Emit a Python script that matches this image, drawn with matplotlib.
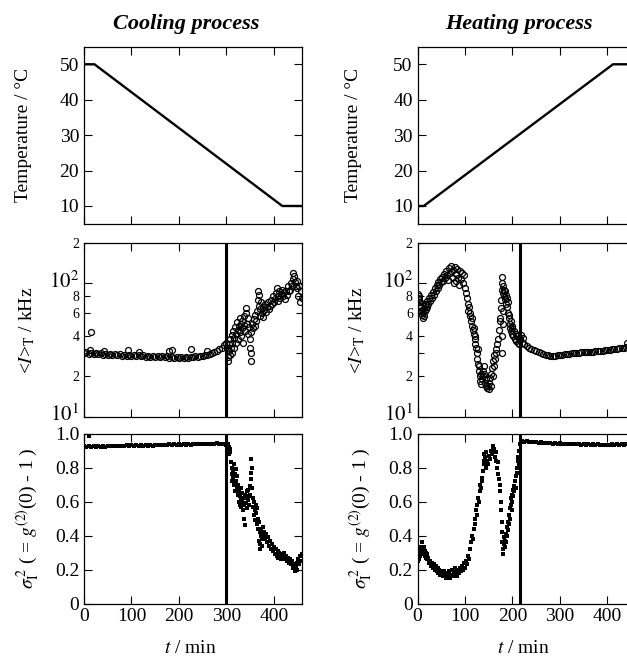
import matplotlib
matplotlib.use('Agg')
import matplotlib.pyplot as plt
from matplotlib.ticker import FixedLocator, FuncFormatter, NullFormatter
from matplotlib.transforms import ScaledTranslation

plt.rcParams['font.family'] = ['Liberation Serif', 'DejaVu Serif']
plt.rcParams['mathtext.fontset'] = 'stix'
plt.rcParams['font.size'] = 14

# ---- temperature programme ----
cool_temp_t = [0, 22, 418, 460]
cool_temp = [50, 50, 10, 10]
heat_temp_t = [0, 13, 412, 460]
heat_temp = [10, 10, 50, 50]

# ---- mean intensity, cooling ----
cool_band_t = list(range(0, 301, 5))
cool_band_I = [30.0, 30.4, 29.6, 30.2, 29.5, 29.9, 29.3, 29.8, 29.2, 29.6, 29.0, 29.5,
               28.9, 29.4, 28.8, 29.3, 28.7, 29.2, 28.6, 29.1, 28.5, 29.0, 28.4, 28.9,
               28.3, 28.8, 28.2, 28.7, 28.1, 28.6, 28.0, 28.5, 27.9, 28.4, 27.8, 28.3,
               27.7, 28.2, 27.6, 28.1, 27.6, 28.0, 27.6, 28.1, 27.7, 28.2, 27.8, 28.3,
               28.0, 28.6, 28.4, 29.0, 29.0, 29.6, 29.8, 30.6, 31.0, 32.0, 33.0, 34.5, 36.0]
cool_extra_t = [12, 14, 43, 92, 115, 180, 185, 225, 260]
cool_extra_I = [31.5, 43, 31, 31.5, 30.5, 31, 31.5, 32, 31]
cool_scat_t = [302, 303, 304, 305, 306, 307, 308, 310, 311, 312, 313, 315, 316, 317, 318,
               320, 321, 322, 324, 325, 326, 328, 329, 330, 331, 333, 334, 335, 337, 338,
               340, 341, 342, 344, 345, 346, 348, 349, 350, 351, 352, 353, 355, 356, 358,
               360, 361, 363, 365, 366, 367, 368, 369, 370, 372, 373, 375, 377, 378, 380,
               382, 384, 386, 388, 390, 392, 394, 396, 398, 400, 402, 404, 406, 408, 410,
               412, 414, 416, 418, 420, 422, 424, 426, 428, 430, 432, 434, 436, 438, 440,
               441, 442, 444, 446, 448, 450, 452, 454, 456, 458, 460]
cool_scat_I = [33, 28, 26, 31, 35, 29, 38, 33, 30, 41, 36, 44, 33, 39, 47,
               42, 36, 51, 45, 38, 48, 43, 55, 50, 40, 46, 52, 36, 49, 57,
               44, 65, 60, 50, 42, 55, 47, 38, 33, 30, 26, 43, 50, 46, 54,
               48, 58, 52, 62, 75, 88, 82, 68, 57, 64, 72, 60, 67, 56, 63,
               70, 61, 66, 73, 64, 68, 75, 70, 80, 72, 77, 85, 92, 80, 74,
               88, 78, 84, 90, 80, 86, 76, 88, 82, 96, 87, 90, 100, 95, 108,
               120, 113, 102, 95, 92, 105, 80, 96, 73, 88, 78]

# ---- mean intensity, heating ----
heat_scat_t = [0, 1, 2, 3, 4, 5, 6, 7, 8, 9, 10, 11, 12, 13, 14, 15, 16, 17, 18, 19,
               20, 22, 24, 26, 28, 30, 32, 34, 36, 38, 40, 42, 44, 46, 48, 50, 52, 54,
               56, 58, 60, 62, 64, 66, 68, 70, 72, 74, 76, 78, 80, 82, 84, 86, 88, 90,
               92, 94, 96, 98, 100, 102, 104, 106, 107, 108, 110, 111, 112, 114, 115,
               116, 118, 119, 120, 121, 122, 124, 125, 126, 127, 128, 129, 130, 131,
               132, 133, 134, 136, 137, 138, 140, 141, 142, 144, 145, 146, 148, 150,
               151, 152, 154, 155, 156, 158, 160, 161, 162, 164, 165, 166, 168, 170,
               172, 173, 174, 175, 176, 177, 178, 179, 180, 181, 182, 183, 184, 185,
               186, 187, 188, 189, 190, 191, 192, 193, 194, 195, 196, 197, 198, 199,
               200, 202, 204, 205, 207, 208, 210, 212, 213, 214, 215, 178, 179, 180, 181]
heat_scat_I = [84, 78, 80, 73, 76, 68, 72, 62, 66, 58, 63, 55, 60, 65, 57, 62, 68, 64, 70, 66,
               74, 70, 78, 74, 82, 78, 86, 82, 92, 88, 97, 92, 103, 98, 108, 102, 112, 105,
               118, 110, 125, 115, 106, 130, 120, 135, 112, 126, 100, 132, 118, 105, 128, 110, 98, 125,
               108, 120, 100, 115, 92, 85, 78, 70, 62, 66, 57, 60, 52, 55, 48,
               45, 42, 46, 38, 35, 40, 33, 30, 27, 32, 25, 22, 24, 20,
               18.5, 21, 17.5, 19, 22, 20, 24, 21, 18, 17, 19, 16.5, 17, 16,
               18, 19.5, 17, 21, 23, 20, 26, 24, 29, 27, 32, 30, 35, 38,
               45, 55, 52, 65, 75, 90, 112, 100, 85, 96, 80, 90, 76, 88,
               70, 82, 66, 78, 60, 72, 58, 55, 50, 46, 52, 44, 48, 42,
               46, 40, 44, 38, 42, 37, 40, 36, 39, 35, 38, 30, 40, 50, 62]
heat_band_t = list(range(215, 461, 5))
heat_band_I = [38, 36, 35, 34, 33, 32.3, 31.5, 31, 30.4, 30, 29.6, 29.2, 28.9, 28.7, 28.6,
               28.6, 28.8, 29, 29.2, 29.4, 29.6, 29.7, 29.9, 30, 30.1, 30.2, 30.3, 30.4,
               30.5, 30.6, 30.7, 30.8, 30.9, 31, 31.1, 31.2, 31.4, 31.5, 31.7, 31.9, 32.1,
               32.3, 32.6, 32.8, 33, 33.3, 33.5, 33.8, 34, 34.2]
heat_extra_t = [219, 222, 442]
heat_extra_I = [41, 39, 36]

# ---- sigma^2, cooling ----
cool_sig_band_t = list(range(0, 301, 5))
cool_sig_band = [0.925, 0.92, 0.927, 0.922, 0.926, 0.921, 0.927, 0.923, 0.928, 0.924,
                 0.929, 0.925, 0.929, 0.926, 0.930, 0.926, 0.930, 0.927, 0.931, 0.928,
                 0.931, 0.928, 0.932, 0.929, 0.932, 0.929, 0.933, 0.930, 0.934, 0.930,
                 0.934, 0.931, 0.935, 0.932, 0.935, 0.932, 0.936, 0.933, 0.936, 0.934,
                 0.937, 0.934, 0.937, 0.935, 0.938, 0.935, 0.938, 0.936, 0.939, 0.936,
                 0.939, 0.937, 0.940, 0.937, 0.941, 0.938, 0.942, 0.938, 0.940, 0.936, 0.934]
cool_sig_extra_t = [10]
cool_sig_extra = [0.986]
cool_sig_t = [301, 302, 303, 304, 305, 306, 307, 308, 310, 311, 312, 313, 314, 315, 316,
              317, 318, 319, 320, 321, 322, 323, 324, 325, 326, 327, 328, 329, 330, 331,
              332, 333, 334, 335, 336, 337, 338, 339, 340, 341, 342, 343, 344, 345, 346,
              347, 348, 349, 350, 351, 352, 353, 354, 355, 356, 357, 358, 359, 360, 361,
              362, 363, 364, 365, 366, 367, 368, 369, 370, 371, 372, 373, 374, 375, 376,
              377, 378, 379, 380, 382, 384, 386, 388, 390, 392, 394, 396, 398, 400, 402,
              404, 406, 408, 410, 412, 414, 416, 418, 420, 422, 424, 426, 428, 430, 432,
              434, 436, 438, 440, 442, 444, 446, 448, 450, 452, 454, 456, 458, 460]
cool_sig = [0.92, 0.90, 0.94, 0.91, 0.88, 0.92, 0.89, 0.91, 0.83, 0.76, 0.80, 0.72, 0.78, 0.74, 0.82,
            0.70, 0.76, 0.66, 0.79, 0.72, 0.68, 0.75, 0.64, 0.70, 0.60, 0.66, 0.58, 0.63, 0.68, 0.61,
            0.57, 0.65, 0.60, 0.55, 0.62, 0.58, 0.50, 0.64, 0.46, 0.59, 0.62, 0.66, 0.56, 0.61, 0.67,
            0.58, 0.63, 0.69, 0.64, 0.73, 0.77, 0.85, 0.80, 0.68, 0.62, 0.57, 0.52, 0.60, 0.55, 0.49,
            0.58, 0.53, 0.47, 0.56, 0.50, 0.44, 0.48, 0.37, 0.42, 0.32, 0.35, 0.40, 0.44, 0.38, 0.34,
            0.41, 0.45, 0.39, 0.42, 0.38, 0.41, 0.36, 0.39, 0.34, 0.37, 0.32, 0.35, 0.31, 0.33, 0.29,
            0.32, 0.28, 0.31, 0.27, 0.30, 0.28, 0.26, 0.29, 0.27, 0.30, 0.26, 0.28, 0.25, 0.27, 0.24,
            0.26, 0.23, 0.25, 0.21, 0.23, 0.19, 0.22, 0.24, 0.20, 0.26, 0.23, 0.28, 0.25, 0.29]

# ---- sigma^2, heating ----
heat_sig_t = [0, 1, 2, 3, 4, 5, 6, 7, 8, 9, 10, 11, 12, 13, 14, 15, 16, 17, 18, 19,
              20, 22, 24, 26, 28, 30, 32, 34, 36, 38, 40, 42, 44, 46, 48, 50, 52, 54, 56, 58,
              60, 62, 64, 66, 68, 70, 72, 74, 76, 78, 80, 82, 84, 86, 88, 90, 92, 94, 96, 98,
              100, 102, 104, 106, 108, 110, 112, 114, 116, 118, 120, 122, 124, 125, 126, 128,
              130, 131, 132, 134, 135, 136, 138, 139, 140, 141, 142, 144, 145, 146, 148, 150,
              152, 154, 156, 158, 159, 160, 161, 162, 164, 165, 166, 168, 169, 170, 172, 173,
              174, 175, 176, 177, 178, 179, 180, 181, 182, 183, 184, 185, 186, 187, 188, 189,
              190, 191, 192, 193, 194, 195, 196, 197, 198, 199, 200, 201, 202, 203, 204, 206,
              207, 208, 209, 210, 211, 212, 213, 214]
heat_sig = [0.27, 0.25, 0.29, 0.26, 0.30, 0.28, 0.31, 0.29, 0.33, 0.30, 0.36, 0.32, 0.30, 0.33,
            0.29, 0.31, 0.28, 0.30, 0.27, 0.29, 0.26, 0.27, 0.24, 0.25, 0.22, 0.24, 0.21, 0.23,
            0.20, 0.22, 0.19, 0.21, 0.18, 0.20, 0.17, 0.19, 0.18, 0.16, 0.19, 0.17, 0.15, 0.18,
            0.16, 0.19, 0.15, 0.17, 0.20, 0.16, 0.18, 0.21, 0.17, 0.19, 0.16, 0.20, 0.18, 0.21,
            0.19, 0.22, 0.20, 0.24, 0.21, 0.25, 0.23, 0.28, 0.26, 0.32, 0.36, 0.40, 0.38, 0.44,
            0.47, 0.50, 0.55, 0.58, 0.52, 0.62, 0.60, 0.66, 0.70, 0.68, 0.74, 0.72, 0.78, 0.84,
            0.88, 0.82, 0.86, 0.80, 0.89, 0.84, 0.82, 0.87, 0.85, 0.90, 0.88, 0.92, 0.90, 0.93,
            0.89, 0.91, 0.86, 0.89, 0.84, 0.80, 0.83, 0.76, 0.73, 0.70, 0.66, 0.60, 0.55, 0.48,
            0.42, 0.36, 0.32, 0.29, 0.35, 0.39, 0.33, 0.37, 0.41, 0.36, 0.45, 0.40, 0.48, 0.43,
            0.52, 0.47, 0.56, 0.50, 0.58, 0.62, 0.55, 0.64, 0.60, 0.67, 0.63, 0.69, 0.66, 0.72,
            0.68, 0.75, 0.80, 0.77, 0.84, 0.86, 0.82, 0.90]
heat_sig_band_t = list(range(215, 461, 5))
heat_sig_band = [0.94, 0.957, 0.952, 0.955, 0.950, 0.952, 0.948, 0.950, 0.946, 0.948, 0.944,
                 0.946, 0.942, 0.944, 0.941, 0.943, 0.940, 0.942, 0.939, 0.941, 0.938, 0.940,
                 0.937, 0.939, 0.936, 0.938, 0.935, 0.937, 0.935, 0.937, 0.934, 0.936, 0.934,
                 0.936, 0.933, 0.935, 0.933, 0.935, 0.934, 0.936, 0.934, 0.936, 0.935, 0.937,
                 0.935, 0.937, 0.936, 0.938, 0.936, 0.937]

t_ticks = [0, 100, 200, 300, 400]
temp_ticks = [10, 20, 30, 40, 50]
sig_ticks = [0, 0.2, 0.4, 0.6, 0.8, 1.0]
log_minor = [20, 30, 40, 60, 80, 200]
log_minor_labels = {20: '2', 40: '4', 60: '6', 80: '8', 200: '2'}

fig = plt.figure(figsize=(6.27, 6.56), dpi=100)

col_x = [0.134, 0.666]
col_w = 0.348
rows = [(0.659, 0.270), (0.365, 0.264), (0.080, 0.259)]


def style(ax):
    ax.set_xlim(0, 460)
    ax.xaxis.set_major_locator(FixedLocator(t_ticks))
    ax.tick_params(which='both', direction='in', top=True, right=True,
                   width=0.8, labelsize=14)
    ax.tick_params(which='major', length=6)
    ax.tick_params(which='minor', length=4)
    for s in ax.spines.values():
        s.set_linewidth(0.9)


axes = []
for c in range(2):
    col = []
    for (y0, h) in rows:
        col.append(fig.add_axes([col_x[c], y0, col_w, h]))
    axes.append(col)

cool_top, cool_mid, cool_bot = axes[0]
heat_top, heat_mid, heat_bot = axes[1]

# temperature
cool_top.plot(cool_temp_t, cool_temp, color='black', lw=1.7)
heat_top.plot(heat_temp_t, heat_temp, color='black', lw=1.7)

# intensity
circ = dict(ls='none', marker='o', mfc='none', mec='black', ms=4.3, mew=0.9)
cool_mid.plot(cool_band_t, cool_band_I, **circ)
cool_mid.plot(cool_extra_t, cool_extra_I, **circ)
cool_mid.plot(cool_scat_t, cool_scat_I, **circ)
heat_mid.plot(heat_scat_t, heat_scat_I, **circ)
heat_mid.plot(heat_band_t, heat_band_I, **circ)
heat_mid.plot(heat_extra_t, heat_extra_I, **circ)

# sigma^2
sq = dict(ls='none', marker='s', color='black', ms=2.6, mew=0)
cool_bot.plot(cool_sig_band_t, cool_sig_band, **sq)
cool_bot.plot(cool_sig_extra_t, cool_sig_extra, **sq)
cool_bot.plot(cool_sig_t, cool_sig, **sq)
heat_bot.plot(heat_sig_t, heat_sig, **sq)
heat_bot.plot(heat_sig_band_t, heat_sig_band, **sq)

for ax in (cool_mid, cool_bot):
    ax.axvline(300, color='black', lw=2.2)
for ax in (heat_mid, heat_bot):
    ax.axvline(215, color='black', lw=2.2)

label_x = [(-0.24, -0.216, -0.193), (-0.255, -0.232, -0.196)]
lift = ScaledTranslation(0, 3 / 72, fig.dpi_scale_trans)

for c in range(2):
    top, mid, bot = axes[c]
    for ax in (top, mid, bot):
        style(ax)

    top.set_ylim(5, 55)
    top.yaxis.set_major_locator(FixedLocator(temp_ticks))
    top.xaxis.set_major_formatter(NullFormatter())
    top.set_ylabel('Temperature / °C', fontsize=14)
    top.yaxis.set_label_coords(label_x[c][0], 0.5)

    mid.set_yscale('log')
    mid.set_ylim(10, 200)
    mid.yaxis.set_major_locator(FixedLocator([10, 100]))
    mid.yaxis.set_major_formatter(FuncFormatter(
        lambda v, p: r'$10^{1}$' if v < 50 else r'$10^{2}$'))
    mid.yaxis.set_minor_locator(FixedLocator(log_minor))
    mid.yaxis.set_minor_formatter(FuncFormatter(
        lambda v, p: log_minor_labels.get(int(round(v)), '')))
    mid.tick_params(axis='y', which='minor', labelsize=10)
    mid.tick_params(axis='y', which='major', labelsize=15)
    for lab in mid.yaxis.get_majorticklabels():
        lab.set_transform(lab.get_transform() + lift)
    mid.xaxis.set_major_formatter(NullFormatter())
    mid.set_ylabel(r'<$I$>$_{\rm T}$ / kHz', fontsize=14)
    mid.yaxis.set_label_coords(label_x[c][1], 0.5)

    bot.set_ylim(0, 1.0)
    bot.yaxis.set_major_locator(FixedLocator(sig_ticks))
    bot.yaxis.set_major_formatter(FuncFormatter(
        lambda v, p: '0' if v == 0 else '%.1f' % v))
    bot.set_ylabel(r'$\sigma_{\rm I}^{\,2}$ ( = $g^{(2)}$(0) - 1 )', fontsize=14)
    bot.yaxis.set_label_coords(label_x[c][2], 0.5)
    bot.set_xlabel(r'$t$ / min', fontsize=14)
    bot.xaxis.set_label_coords(0.486, -0.216)

fig.text(186 / 627, 1 - 24 / 656, 'Cooling process', ha='center', va='center',
         fontsize=16, fontweight='bold', fontstyle='italic')
fig.text(519 / 627, 1 - 24 / 656, 'Heating process', ha='center', va='center',
         fontsize=16, fontweight='bold', fontstyle='italic')

fig.savefig('out.png', dpi=100)
